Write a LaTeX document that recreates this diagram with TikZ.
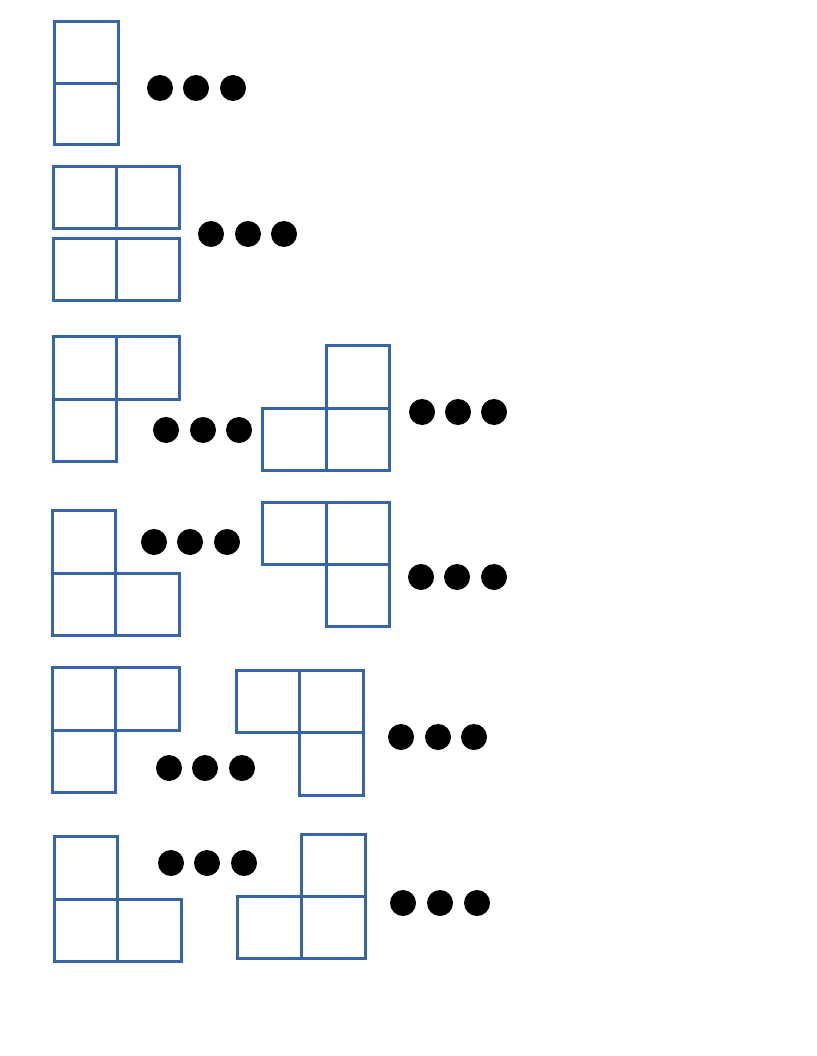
\documentclass[tikz,border=0pt]{standalone}
\definecolor{cellblue}{RGB}{54,100,168}
\begin{document}
\begin{tikzpicture}[x=1pt,y=-1pt,
    cell/.style={draw=cellblue, line width=3pt},
    dot/.style={fill=black}]
    \useasboundingbox (0,0) rectangle (816,1056);

    % Row 1: vertical domino
    \draw[cell] (54,22) rectangle (118,84);
    \draw[cell] (54,84) rectangle (118,145);
    \fill[dot] (160,88) circle (13);
    \fill[dot] (196,88) circle (13);
    \fill[dot] (233,88) circle (13);

    % Row 2: two horizontal dominoes
    \draw[cell] (53,167) rectangle (116,229);
    \draw[cell] (116,167) rectangle (179,229);
    \draw[cell] (53,239) rectangle (116,300);
    \draw[cell] (116,239) rectangle (179,300);
    \fill[dot] (211,234) circle (13);
    \fill[dot] (248,234) circle (13);
    \fill[dot] (284,234) circle (13);

    % Row 3
    \draw[cell] (53,336) rectangle (116,399);
    \draw[cell] (116,336) rectangle (179,399);
    \draw[cell] (53,399) rectangle (116,461);
    \fill[dot] (166,430) circle (13);
    \fill[dot] (203,430) circle (13);
    \fill[dot] (239,430) circle (13);
    \draw[cell] (326,345) rectangle (389,408);
    \draw[cell] (262,408) rectangle (326,470);
    \draw[cell] (326,408) rectangle (389,470);
    \fill[dot] (422,412) circle (13);
    \fill[dot] (458,412) circle (13);
    \fill[dot] (494,412) circle (13);

    % Row 4
    \draw[cell] (52,510) rectangle (115,573);
    \draw[cell] (52,573) rectangle (115,635);
    \draw[cell] (115,573) rectangle (179,635);
    \fill[dot] (154,542) circle (13);
    \fill[dot] (190,542) circle (13);
    \fill[dot] (227,542) circle (13);
    \draw[cell] (262,502) rectangle (326,564);
    \draw[cell] (326,502) rectangle (389,564);
    \draw[cell] (326,564) rectangle (389,626);
    \fill[dot] (421,577) circle (13);
    \fill[dot] (457,577) circle (13);
    \fill[dot] (494,577) circle (13);

    % Row 5
    \draw[cell] (52,667) rectangle (115,730);
    \draw[cell] (115,667) rectangle (179,730);
    \draw[cell] (52,730) rectangle (115,792);
    \fill[dot] (169,768) circle (13);
    \fill[dot] (205,768) circle (13);
    \fill[dot] (242,768) circle (13);
    \draw[cell] (236,670) rectangle (299,732);
    \draw[cell] (299,670) rectangle (363,732);
    \draw[cell] (299,732) rectangle (363,795);
    \fill[dot] (401,737) circle (13);
    \fill[dot] (438,737) circle (13);
    \fill[dot] (474,737) circle (13);

    % Row 6
    \draw[cell] (54,836) rectangle (117,899);
    \draw[cell] (54,899) rectangle (117,961);
    \draw[cell] (117,899) rectangle (181,961);
    \fill[dot] (171,863) circle (13);
    \fill[dot] (207,863) circle (13);
    \fill[dot] (244,863) circle (13);
    \draw[cell] (301,834) rectangle (365,896);
    \draw[cell] (237,896) rectangle (301,958);
    \draw[cell] (301,896) rectangle (365,958);
    \fill[dot] (403,903) circle (13);
    \fill[dot] (440,903) circle (13);
    \fill[dot] (477,903) circle (13);
\end{tikzpicture}
\end{document}
